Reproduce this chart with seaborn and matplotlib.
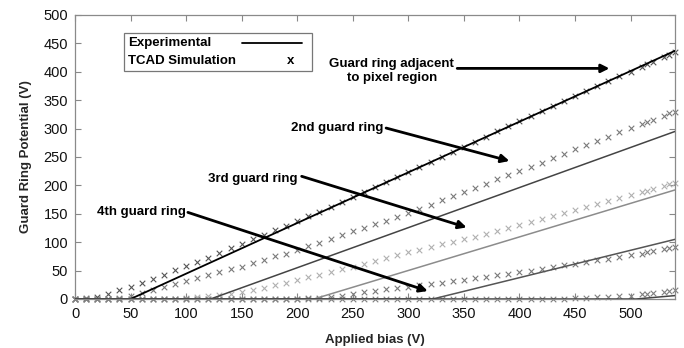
import numpy as np
import pandas as pd
import matplotlib
matplotlib.use("Agg")
import matplotlib.pyplot as plt
import seaborn as sns
from matplotlib.lines import Line2D
from matplotlib.patches import Rectangle

# ---------------- data ----------------
# Experimental (lines): applied bias (V) vs guard ring potential (V)
exp1_v = [0, 50, 540]
exp1_p = [0, 0, 437]
exp2_v = [0, 122, 540]
exp2_p = [0, 0, 295]
exp3_v = [0, 215, 540]
exp3_p = [0, 0, 192]
exp4_v = [0, 322, 540]
exp4_p = [0, 0, 105]
exp5_v = [0, 505, 540]
exp5_p = [0, 0, 6]

# TCAD simulation (x markers)
sim_v = [0, 10, 20, 30, 40, 50, 60, 70, 80, 90,
         100, 110, 120, 130, 140, 150, 160, 170, 180, 190,
         200, 210, 220, 230, 240, 250, 260, 270, 280, 290,
         300, 310, 320, 330, 340, 350, 360, 370, 380, 390,
         400, 410, 420, 430, 440, 450, 460, 470, 480, 490,
         500, 510, 515, 520, 530, 535, 540]
sim1_p = [0, 1, 3, 9, 15, 22, 29, 36, 43, 51,
          58, 65, 73, 81, 89, 97, 105, 113, 121, 129,
          138, 146, 154, 162, 170, 179, 188, 197, 206, 215,
          224, 232, 241, 250, 259, 268, 277, 286, 295, 304,
          313, 322, 331, 340, 349, 358, 367, 375, 383, 392,
          400, 408, 413, 417, 426, 430, 435]
sim2_p = [0, 0, 0, 0, 2, 6, 11, 16, 21, 27,
          32, 37, 42, 47, 52, 57, 63, 69, 75, 80,
          86, 93, 99, 106, 112, 119, 125, 132, 138, 145,
          152, 159, 166, 174, 181, 188, 196, 203, 211, 218,
          226, 233, 240, 248, 256, 264, 271, 279, 286, 294,
          301, 308, 312, 316, 323, 327, 330]
sim3_p = [0, 0, 0, 0, 0, 0, 0, 0, 0, 0,
          2, 3, 5, 7, 9, 12, 15, 20, 24, 29,
          34, 39, 43, 48, 52, 57, 62, 67, 73, 78,
          83, 87, 92, 96, 101, 106, 110, 115, 120, 125,
          130, 135, 140, 146, 151, 157, 162, 167, 172, 178,
          183, 188, 191, 193, 199, 202, 205]
sim4_p = [0, 0, 0, 0, 0, 0, 0, 0, 0, 0,
          0, 0, 0, 0, 0, 0, 0, 0, 0, 0,
          0, 1, 2, 4, 6, 9, 12, 14, 17, 19,
          22, 24, 27, 29, 32, 34, 37, 39, 42, 44,
          47, 50, 53, 56, 59, 62, 65, 68, 71, 74,
          77, 80, 82, 84, 88, 90, 92]
sim5_p = [0, 0, 0, 0, 0, 0, 0, 0, 0, 0,
          0, 0, 0, 0, 0, 0, 0, 0, 0, 0,
          0, 0, 0, 0, 0, 0, 0, 0, 0, 0,
          0, 0, 0, 0, 0, 0, 0, 0, 0, 0,
          0, 0, 0, 0, 0, 1, 2, 3, 4, 5,
          6, 8, 9, 10, 13, 14, 16]

x_ticks = [0, 50, 100, 150, 200, 250, 300, 350, 400, 450, 500]
y_ticks = [0, 50, 100, 150, 200, 250, 300, 350, 400, 450, 500]
legend_labels = ["Experimental", "TCAD Simulation"]

# ---------------- style ----------------
sns.set_style("ticks")
plt.rcParams["font.family"] = ["Liberation Sans", "DejaVu Sans"]

fig = plt.figure(figsize=(6.84, 3.48), dpi=100)
ax = fig.add_axes([75 / 684, 1 - 299 / 348, 600 / 684, 284 / 348])

sim_sets = [(sim1_p, "#555555"), (sim2_p, "#7a7a7a"), (sim3_p, "#b0b0b0"),
            (sim4_p, "#7a7a7a"), (sim5_p, "#808080")]
for p, c in sim_sets:
    sns.scatterplot(x=sim_v, y=p, marker="x", color=c, s=16, linewidth=0.8,
                    ax=ax, zorder=2, clip_on=False)

exp_sets = [(exp1_v, exp1_p, "#000000", 1.3), (exp2_v, exp2_p, "#444444", 1.1),
            (exp3_v, exp3_p, "#8c8c8c", 1.1), (exp4_v, exp4_p, "#555555", 1.1),
            (exp5_v, exp5_p, "#444444", 1.1)]
for v, p, c, lw in exp_sets:
    sns.lineplot(x=v, y=p, color=c, linewidth=lw, ax=ax, zorder=3,
                 estimator=None, sort=False)

ax.set_xlim(0, 540)
ax.set_ylim(0, 500)
ax.set_xticks(x_ticks)
ax.set_yticks(y_ticks)
ax.tick_params(direction="in", length=4, color="#888888", labelsize=10.5,
               labelcolor="#111111", top=True, right=True, width=0.8)
ax.tick_params(axis="x", pad=6)
ax.tick_params(axis="y", pad=5)
ax.tick_params(labeltop=False, labelright=False)
for s in ax.spines.values():
    s.set_color("#8a8a8a")
    s.set_linewidth(0.9)

ax.set_xlabel("Applied bias (V)", fontsize=9.5, fontweight="bold", labelpad=9)
ax.set_ylabel("Guard Ring Potential (V)", fontsize=9.5, fontweight="bold", labelpad=8)

# legend box (text first, then sample), in axes fraction
def fx(px):
    return (px - 75) / 600.0

def fy(py):
    return (299 - py) / 284.0

ax.add_patch(Rectangle((fx(124), fy(71)), fx(312) - fx(124), fy(33) - fy(71),
                       transform=ax.transAxes, facecolor="white",
                       edgecolor="#777777", linewidth=0.9, zorder=5))
lt = dict(fontsize=9.5, fontweight="bold", color="black", ha="left",
          va="center", transform=ax.transAxes, zorder=6)
ax.text(fx(128), fy(43), legend_labels[0], **lt)
ax.text(fx(128), fy(61), legend_labels[1], **lt)
ax.add_line(Line2D([fx(242), fx(302)], [fy(43), fy(43)], color="black", lw=1.3,
                   transform=ax.transAxes, zorder=6))
ax.text(fx(291), fy(61), "x", fontsize=9.5, fontweight="bold", color="black",
        ha="center", va="center", transform=ax.transAxes, zorder=6)

# annotations
arrow = dict(arrowstyle="-|>", lw=2, color="black", mutation_scale=12,
             shrinkA=0, shrinkB=0)
txt = dict(fontsize=9.5, fontweight="bold", color="black")
ax.text(285, 402, "Guard ring adjacent\nto pixel region", ha="center",
        va="center", linespacing=1.25, **txt)
ax.annotate("", xy=(481, 406), xytext=(344, 406), arrowprops=arrow)
ax.text(194, 301, "2nd guard ring", ha="left", va="center", **txt)
ax.annotate("", xy=(391, 243), xytext=(280, 301), arrowprops=arrow)
ax.text(119.6, 211, "3rd guard ring", ha="left", va="center", **txt)
ax.annotate("", xy=(352.5, 126), xytext=(204, 216), arrowprops=arrow)
ax.text(19.8, 152.5, "4th guard ring", ha="left", va="center", **txt)
ax.annotate("", xy=(317.5, 14), xytext=(101.6, 152.5), arrowprops=arrow)

fig.savefig("out.png", dpi=100)
